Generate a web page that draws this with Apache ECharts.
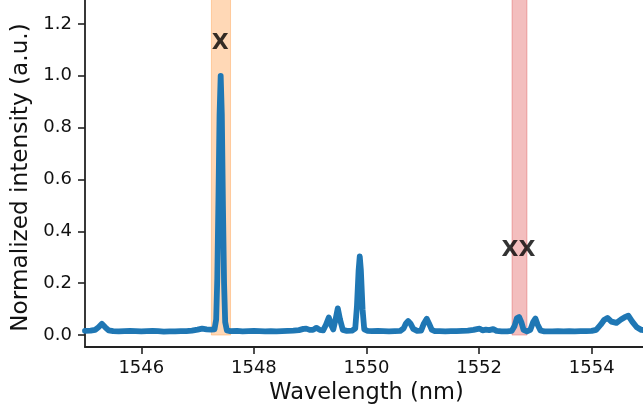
<!DOCTYPE html>
<html>
<head>
<meta charset="utf-8">
<script src="https://cdn.jsdelivr.net/npm/echarts@6/dist/echarts.min.js"></script>
<style>
html,body{margin:0;padding:0;background:#fff;}
#chart{width:643px;height:414px;}
</style>
</head>
<body>
<div id="chart"></div>
<script>
// Wavelength (nm) samples and normalized intensity
const wavelength = [
  1545.00,1545.10,1545.18,1545.24,1545.30,1545.36,1545.42,1545.50,1545.60,1545.70,
  1545.80,1545.90,1546.00,1546.10,1546.20,1546.30,1546.40,1546.50,1546.60,1546.70,
  1546.80,1546.90,1547.00,1547.08,1547.16,1547.24,1547.30,1547.33,1547.35,1547.37,
  1547.39,1547.41,1547.43,1547.45,1547.47,1547.49,1547.52,1547.58,1547.70,1547.80,
  1547.90,1548.00,1548.10,1548.20,1548.30,1548.40,1548.50,1548.60,1548.70,1548.80,
  1548.88,1548.93,1548.99,1549.05,1549.11,1549.17,1549.23,1549.28,1549.33,1549.38,
  1549.41,1549.45,1549.49,1549.53,1549.58,1549.65,1549.74,1549.80,1549.83,1549.86,
  1549.88,1549.90,1549.93,1549.96,1550.02,1550.10,1550.20,1550.30,1550.40,1550.50,
  1550.60,1550.66,1550.70,1550.74,1550.78,1550.83,1550.90,1550.97,1551.02,1551.07,
  1551.11,1551.16,1551.22,1551.30,1551.40,1551.50,1551.60,1551.70,1551.80,1551.90,
  1551.96,1552.01,1552.06,1552.12,1552.18,1552.25,1552.31,1552.40,1552.50,1552.58,
  1552.63,1552.67,1552.71,1552.75,1552.79,1552.85,1552.91,1552.96,1553.00,1553.04,
  1553.09,1553.16,1553.30,1553.40,1553.50,1553.60,1553.70,1553.80,1553.90,1554.00,
  1554.08,1554.16,1554.22,1554.28,1554.35,1554.44,1554.52,1554.58,1554.65,1554.72,
  1554.80,1554.88,1555.00
];
const intensity = [
  0.016,0.017,0.020,0.030,0.043,0.030,0.018,0.015,0.014,0.015,
  0.016,0.015,0.014,0.015,0.016,0.015,0.013,0.014,0.014,0.015,
  0.015,0.017,0.021,0.025,0.022,0.021,0.022,0.060,0.220,0.520,
  0.850,1.000,0.850,0.500,0.200,0.050,0.018,0.015,0.016,0.014,
  0.015,0.016,0.015,0.014,0.015,0.014,0.015,0.016,0.017,0.019,
  0.024,0.025,0.020,0.020,0.028,0.020,0.018,0.040,0.068,0.035,
  0.022,0.060,0.103,0.060,0.020,0.016,0.017,0.025,0.110,0.250,
  0.303,0.250,0.100,0.022,0.016,0.015,0.016,0.015,0.014,0.015,
  0.016,0.026,0.045,0.054,0.045,0.024,0.016,0.017,0.045,0.063,
  0.045,0.020,0.015,0.015,0.014,0.015,0.015,0.016,0.017,0.020,
  0.023,0.025,0.018,0.021,0.019,0.023,0.016,0.014,0.014,0.016,
  0.035,0.065,0.070,0.050,0.020,0.014,0.020,0.050,0.064,0.040,
  0.018,0.014,0.014,0.015,0.014,0.015,0.014,0.015,0.015,0.016,
  0.020,0.040,0.058,0.066,0.052,0.047,0.060,0.068,0.075,0.052,
  0.030,0.020,0.018
];
// Shaded wavelength bands
const bandStart = [1547.245, 1552.585];
const bandEnd   = [1547.585, 1552.850];
const bandColor = ['rgba(255,127,14,0.3)', 'rgba(214,39,40,0.3)'];
// Annotations
const annoText = ['X', 'XX'];
const annoX = [1547.40, 1552.70];
const annoY = [1.127, 0.327];
// Axis ticks
const xTicks = [1546, 1548, 1550, 1552, 1554];
const yTicks = [0.0, 0.2, 0.4, 0.6, 0.8, 1.0, 1.2];

const FONT = 'DejaVu Sans';
const axisColor = '#222';
const chart = echarts.init(document.getElementById('chart'), null, {renderer: 'canvas'});
const lineData = wavelength.map((w, i) => [w, intensity[i]]);
const bands = bandStart.map((s, i) => [
  {xAxis: s, yAxis: 0, itemStyle: {color: bandColor[i], borderColor: bandColor[i], borderWidth: 1}},
  {xAxis: bandEnd[i], yAxis: 1.3}
]);
const annoData = annoText.map((t, i) => [annoX[i], annoY[i], t]);

chart.setOption({
  animation: false,
  backgroundColor: '#fff',
  grid: {left: 85, top: -2, width: 563, height: 349, containLabel: false, outerBoundsMode: 'none'},
  xAxis: {
    type: 'value', min: 1545, max: 1555,
    name: 'Wavelength (nm)', nameLocation: 'middle', nameGap: 31,
    nameTextStyle: {fontFamily: FONT, fontSize: 22.5, color: '#111'},
    axisLine: {show: true, onZero: false, lineStyle: {color: axisColor, width: 1.8}},
    axisTick: {show: true, inside: false, length: 7, customValues: xTicks, lineStyle: {color: axisColor, width: 1.6}},
    axisLabel: {show: true, margin: 12, customValues: xTicks, fontFamily: FONT, fontSize: 18, color: '#111',
      formatter: v => String(v)},
    splitLine: {show: false}
  },
  yAxis: {
    type: 'value', min: -0.046, max: 1.3,
    name: 'Normalized intensity (a.u.)', nameLocation: 'middle', nameGap: 50,
    nameTextStyle: {fontFamily: FONT, fontSize: 23.2, color: '#111', padding: [0, 10, 0, 0]},
    axisLine: {show: true, onZero: false, lineStyle: {color: axisColor, width: 1.8}},
    axisTick: {show: true, inside: false, length: 7, customValues: yTicks, lineStyle: {color: axisColor, width: 1.6}},
    axisLabel: {show: true, margin: 13, customValues: yTicks, fontFamily: FONT, fontSize: 18, color: '#111',
      formatter: v => Number(v).toFixed(1)},
    splitLine: {show: false}
  },
  series: [
    {
      type: 'line', data: [], z: 1, silent: true,
      markArea: {silent: true, data: bands}
    },
    {
      type: 'line', data: lineData, z: 3, showSymbol: false, symbol: 'none',
      lineStyle: {color: '#1f77b4', width: 5.8, cap: 'round', join: 'round'},
      clip: true
    },
    {
      type: 'scatter', data: annoData, z: 4, symbolSize: 0,
      label: {show: true, position: 'inside', formatter: p => p.data[2],
        fontFamily: FONT, fontSize: 22, fontWeight: 'bold', color: '#000'}
    }
  ]
});
</script>
</body>
</html>
